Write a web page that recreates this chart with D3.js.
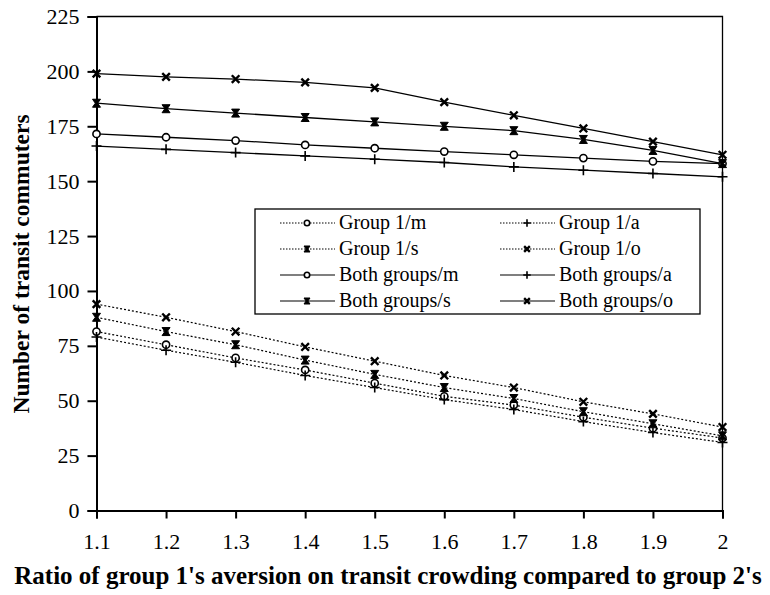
<!DOCTYPE html>
<html>
<head>
<meta charset="utf-8">
<script src="https://cdn.jsdelivr.net/npm/d3@7"></script>
<style>
  body { margin: 0; background: white; }
</style>
</head>
<body>
<div id="plot"></div>
<script>
// Values
const ratio = [1.1, 1.2, 1.3, 1.4, 1.5, 1.6, 1.7, 1.8, 1.9, 2.0];
const xTicks = [1.1, 1.2, 1.3, 1.4, 1.5, 1.6, 1.7, 1.8, 1.9, 2];
const yTicks = [0, 25, 50, 75, 100, 125, 150, 175, 200, 225];

const group1M = [81.5, 75.5, 69.5, 64, 58, 52, 48, 42.5, 37.5, 33];
const group1A = [79, 73, 67.5, 61.5, 56, 50.5, 46, 40.5, 35.5, 31];
const group1S = [88, 81.5, 75.5, 68.5, 62, 56, 51, 45, 39.5, 34];
const group1O = [94, 88, 81.5, 74.5, 68, 61.5, 56, 49.5, 44, 38];
const bothM = [171.5, 170, 168.5, 166.5, 165, 163.5, 162, 160.5, 159, 158];
const bothA = [166, 164.5, 163, 161.5, 160, 158.5, 156.5, 155, 153.5, 152];
const bothS = [185.5, 183, 181, 179, 177, 175, 173, 169, 164, 158];
const bothO = [199, 197.5, 196.5, 195, 192.5, 186, 180, 174, 168, 162];

const seriesNames = ["Group 1/m", "Group 1/a", "Group 1/s", "Group 1/o",
                     "Both groups/m", "Both groups/a", "Both groups/s", "Both groups/o"];

const series = [
  { name: seriesNames[0], values: group1M, marker: "m", dotted: true },
  { name: seriesNames[1], values: group1A, marker: "a", dotted: true },
  { name: seriesNames[2], values: group1S, marker: "s", dotted: true },
  { name: seriesNames[3], values: group1O, marker: "o", dotted: true },
  { name: seriesNames[4], values: bothM, marker: "m", dotted: false },
  { name: seriesNames[5], values: bothA, marker: "a", dotted: false },
  { name: seriesNames[6], values: bothS, marker: "s", dotted: false },
  { name: seriesNames[7], values: bothO, marker: "o", dotted: false }
];

const FONT = "Liberation Serif";
const width = 770;
const height = 595;
const margin = { top: 16.5, right: 47.5, bottom: 84.5, left: 96.5 };

const svg = d3.select("#plot").append("svg")
  .attr("width", width)
  .attr("height", height)
  .attr("font-family", FONT)
  .style("background-color", "white");

const xScale = d3.scaleLinear()
  .domain([1.1, 2])
  .range([margin.left, width - margin.right]);

const yScale = d3.scaleLinear()
  .domain([0, 225])
  .range([height - margin.bottom, margin.top]);

// frame (top and right)
svg.append("path")
  .attr("d", `M${margin.left},${margin.top}H${width - margin.right}V${height - margin.bottom}`)
  .attr("fill", "none")
  .attr("stroke", "black")
  .attr("stroke-width", 1.3);

// axes
const xAxis = d3.axisBottom(xScale).tickValues(xTicks).tickSize(8).tickPadding(15)
  .tickFormat(d => d === 2 ? "2" : d3.format(".1f")(d));
const yAxis = d3.axisLeft(yScale).tickValues(yTicks).tickSize(9).tickPadding(8);

const xAxisGroup = svg.append("g")
  .attr("transform", `translate(0,${height - margin.bottom})`)
  .call(xAxis);

const yAxisGroup = svg.append("g")
  .attr("transform", `translate(${margin.left},0)`)
  .call(yAxis);

[xAxisGroup, yAxisGroup].forEach(g => {
  g.attr("font-family", FONT).attr("font-size", 22);
  g.select(".domain").attr("stroke-width", 2);
  g.selectAll(".tick line").attr("stroke-width", 2);
});

// marker shapes
function drawMarker(g, type, x, y, s) {
  if (type === "m") {
    g.append("circle").attr("cx", x).attr("cy", y).attr("r", 3.6 * s)
      .attr("fill", "white").attr("stroke", "black").attr("stroke-width", 1.6);
  } else if (type === "a") {
    g.append("path")
      .attr("d", `M${x - 5 * s},${y}H${x + 5 * s}M${x},${y - 5 * s}V${y + 5 * s}`)
      .attr("stroke", "black").attr("stroke-width", 1.6);
  } else if (type === "o") {
    const r = 3.8 * s;
    g.append("path")
      .attr("d", `M${x - r},${y - r}L${x + r},${y + r}M${x - r},${y + r}L${x + r},${y - r}`)
      .attr("stroke", "black").attr("stroke-width", 2.4);
  } else if (type === "s") {
    const r = 4 * s;
    g.append("path")
      .attr("d", `M${x - r},${y - r}H${x + r}L${x + 1.2 * s},${y}L${x + r},${y + r}H${x - r}L${x - 1.2 * s},${y}Z`)
      .attr("fill", "black").attr("stroke", "black").attr("stroke-width", 1);
  }
}

const line = d3.line()
  .x((d, i) => xScale(ratio[i]))
  .y(d => yScale(d));

series.forEach(s => {
  svg.append("path")
    .datum(s.values)
    .attr("fill", "none")
    .attr("stroke", "black")
    .attr("stroke-width", s.dotted ? 1.2 : 1.3)
    .attr("stroke-dasharray", s.dotted ? "2,2" : null)
    .attr("d", line);
  const mg = svg.append("g");
  s.values.forEach((v, i) => drawMarker(mg, s.marker, xScale(ratio[i]), yScale(v), 1));
});

// legend
const legend = svg.append("g").attr("transform", "translate(255,209)");
legend.append("rect")
  .attr("width", 445).attr("height", 105)
  .attr("fill", "white").attr("stroke", "black").attr("stroke-width", 1.3);

series.forEach((s, i) => {
  const col = i % 2;
  const row = Math.floor(i / 2);
  const lx = col === 0 ? 25 : 245;
  const ly = 14 + row * 26;
  const g = legend.append("g");
  g.append("line")
    .attr("x1", lx).attr("x2", lx + 55)
    .attr("y1", ly).attr("y2", ly)
    .attr("stroke", "black")
    .attr("stroke-width", s.dotted ? 1 : 1.2)
    .attr("stroke-dasharray", s.dotted ? "1.5,1.5" : null);
  drawMarker(g, s.marker, lx + 27, ly, 0.75);
  g.append("text")
    .attr("x", lx + 59).attr("y", ly + 6)
    .attr("font-size", 20)
    .text(s.name);
});

// axis titles
svg.append("text")
  .attr("x", 388).attr("y", 584)
  .attr("text-anchor", "middle")
  .attr("font-size", 25)
  .attr("font-weight", "bold")
  .text("Ratio of group 1's aversion on transit crowding compared to group 2's");

svg.append("text")
  .attr("transform", "translate(29,264) rotate(-90)")
  .attr("text-anchor", "middle")
  .attr("font-size", 23.5)
  .attr("font-weight", "bold")
  .text("Number of transit commuters");
</script>
</body>
</html>
